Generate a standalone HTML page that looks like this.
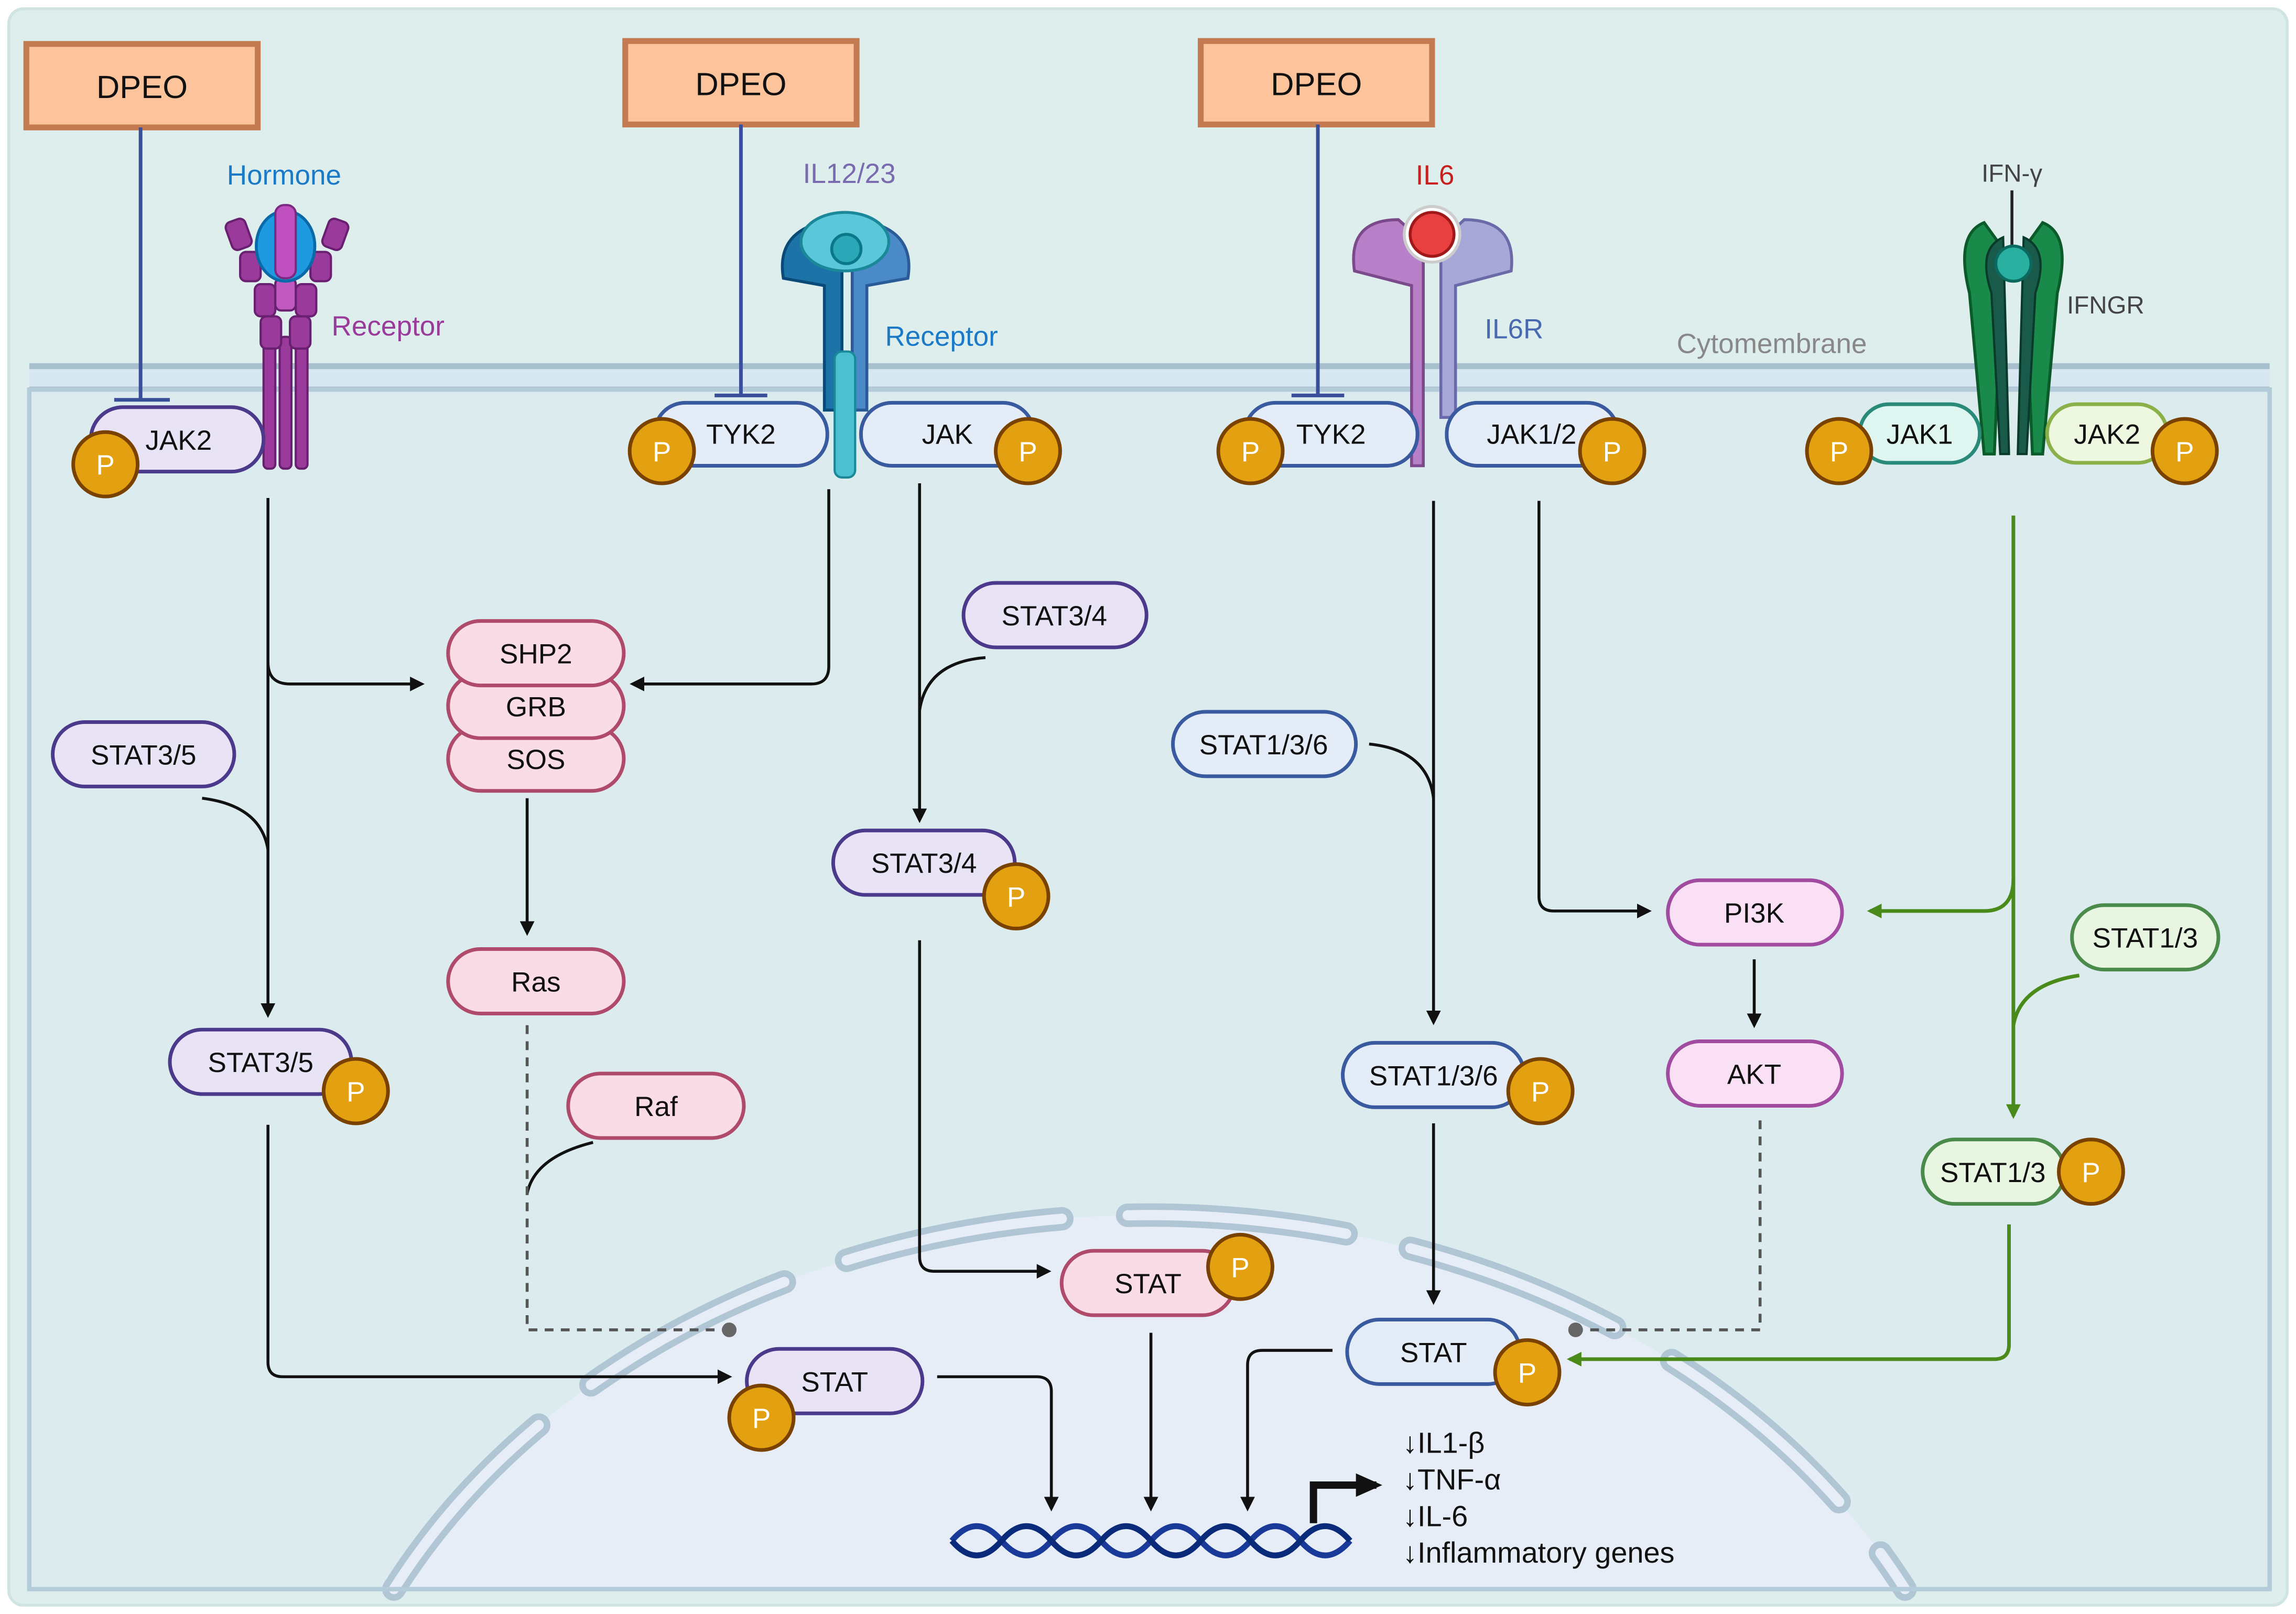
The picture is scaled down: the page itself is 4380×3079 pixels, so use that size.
<!DOCTYPE html>
<html><head><meta charset="utf-8"><style>
html,body{margin:0;padding:0;background:#fff;width:4380px;height:3079px;overflow:hidden}
svg{display:block;position:absolute;left:0;top:0}
text{font-family:"Liberation Sans",Arial,sans-serif}
</style></head><body>
<svg width="4380" height="3079" viewBox="0 0 1568 1102" preserveAspectRatio="none" xmlns="http://www.w3.org/2000/svg">
<defs>
<marker id="ab" markerWidth="10" markerHeight="10" refX="8" refY="5" orient="auto" markerUnits="userSpaceOnUse"><path d="M0,0 L10,5 L0,10 z" fill="#111"/></marker>
<marker id="ag" markerWidth="10" markerHeight="10" refX="8" refY="5" orient="auto" markerUnits="userSpaceOnUse"><path d="M0,0 L10,5 L0,10 z" fill="#4a8a1a"/></marker>
<marker id="abig" markerWidth="20" markerHeight="20" refX="14" refY="10" orient="auto" markerUnits="userSpaceOnUse"><path d="M0,2 L18,10 L0,18 z" fill="#111"/></marker>
</defs>
<rect x="0" y="0" width="1568" height="1102" fill="#fff"/>
<rect x="6" y="6" width="1556" height="1090" rx="10" fill="#deeeed" stroke="#d0e4e2" stroke-width="2"/>
<rect x="20" y="248" width="1530" height="20" fill="#d8e8f2"/>
<line x1="20" y1="250" x2="1550" y2="250" stroke="#a8bfcc" stroke-width="4"/>
<line x1="20" y1="266" x2="1550" y2="266" stroke="#a8bfcc" stroke-width="4"/>
<rect x="20" y="266" width="1530" height="819" fill="#dcecee"/>
<path d="M269,1085 A580,470 0 0,1 1301,1085 Z" fill="#e6edf7"/>
<path d="M269,1085 A580,470 0 0,1 1301,1085" fill="none" stroke="#b0c6d4" stroke-width="16" stroke-dasharray="150 45" stroke-linecap="round"/>
<path d="M269,1085 A580,470 0 0,1 1301,1085" fill="none" stroke="#e6edf7" stroke-width="7" stroke-dasharray="150 45" stroke-linecap="round"/>
<rect x="20" y="266" width="1530" height="819" fill="none" stroke="#b4ccda" stroke-width="3"/>
<g stroke="#c47b52" stroke-width="4" fill="#fdc39a">
<rect x="18" y="30" width="158" height="57"/><rect x="427" y="28" width="158" height="57"/><rect x="820" y="28" width="158" height="57"/>
</g>
<g font-size="22" text-anchor="middle" fill="#111"><text x="97" y="67">DPEO</text><text x="506" y="65">DPEO</text><text x="899" y="65">DPEO</text></g>
<g stroke="#3a4f9a" stroke-width="2.5"><line x1="96" y1="87" x2="96" y2="273"/><line x1="78" y1="273" x2="116" y2="273"/>
<line x1="506" y1="85" x2="506" y2="270"/><line x1="488" y1="270" x2="524" y2="270"/>
<line x1="900" y1="85" x2="900" y2="270"/><line x1="882" y1="270" x2="918" y2="270"/></g>
<g font-size="19" text-anchor="middle">
<text x="194" y="126" fill="#1a7ac8">Hormone</text><text x="265" y="229" fill="#9a3a9a">Receptor</text>
<text x="580" y="125" fill="#7a6ab0">IL12/23</text><text x="643" y="236" fill="#1a7ac8">Receptor</text>
<text x="980" y="126" fill="#c82020">IL6</text><text x="1034" y="231" fill="#4a6ab0">IL6R</text>
<text x="1374" y="124" fill="#444" font-size="17">IFN-γ</text><text x="1438" y="214" fill="#444" font-size="17">IFNGR</text>
<text x="1210" y="241" fill="#888">Cytomembrane</text></g>
<g fill="#9a3a9a" stroke="#6a2070" stroke-width="1.5">
<rect x="180" y="230" width="8" height="90" rx="3"/><rect x="191" y="230" width="8" height="90" rx="3"/><rect x="202" y="230" width="8" height="90" rx="3"/>
<rect x="156" y="150" width="14" height="20" rx="4" transform="rotate(-20 163 160)"/><rect x="222" y="150" width="14" height="20" rx="4" transform="rotate(20 229 160)"/>
<rect x="164" y="172" width="14" height="20" rx="4"/><rect x="212" y="172" width="14" height="20" rx="4"/>
<rect x="174" y="194" width="14" height="22" rx="4"/><rect x="202" y="194" width="14" height="22" rx="4"/>
<rect x="178" y="216" width="14" height="22" rx="4"/><rect x="198" y="216" width="14" height="22" rx="4"/>
<rect x="188" y="190" width="14" height="22" rx="4" fill="#c05ac0"/>
</g>
<ellipse cx="195" cy="168" rx="20" ry="24" fill="#1e9ae0" stroke="#0a6aa8" stroke-width="2"/>
<rect x="188" y="140" width="14" height="50" rx="6" fill="#c050c0" stroke="#7a2a80" stroke-width="1.5"/>
<path d="M535,190 Q530,160 560,152 L575,160 L575,280 L563,280 L563,195 Z" fill="#1b73a8" stroke="#0a4a78" stroke-width="2"/>
<path d="M620,190 Q625,160 595,152 L582,160 L582,280 L592,280 L592,195 Z" fill="#4a8ac8" stroke="#2a5a98" stroke-width="2"/>
<rect x="570" y="240" width="14" height="86" rx="5" fill="#4ac0d0" stroke="#1a8898" stroke-width="1.5"/>
<ellipse cx="577" cy="165" rx="30" ry="20" fill="#5ac8d8" stroke="#1a8898" stroke-width="2"/>
<circle cx="578" cy="170" r="10" fill="#2aa8b8" stroke="#0a7888" stroke-width="2"/>
<path d="M925,185 Q920,150 955,150 L972,165 L972,318 L964,318 L964,195 Z" fill="#b880c8" stroke="#7a4a8a" stroke-width="2"/>
<path d="M1032,185 Q1036,150 1000,150 L984,165 L984,285 L994,285 L994,195 Z" fill="#a8a8d8" stroke="#6a6aa8" stroke-width="2"/>
<circle cx="978" cy="160" r="19" fill="#fff" stroke="#ccc" stroke-width="2"/>
<circle cx="978" cy="160" r="15" fill="#e84040" stroke="#a01818" stroke-width="2"/>
<path d="M1345,200 Q1335,160 1355,152 L1368,170 L1362,310 L1355,310 Z" fill="#1a8a4a" stroke="#0a5a2a" stroke-width="2"/>
<path d="M1405,200 Q1415,160 1395,152 L1382,170 L1388,310 L1395,310 Z" fill="#1a8a4a" stroke="#0a5a2a" stroke-width="2"/>
<path d="M1360,200 Q1350,170 1368,162 L1372,310 L1366,310 Z" fill="#1a5a4a" stroke="#0a3a2a" stroke-width="1.5"/>
<path d="M1390,200 Q1400,170 1382,162 L1378,310 L1384,310 Z" fill="#1a5a4a" stroke="#0a3a2a" stroke-width="1.5"/>
<line x1="1374" y1="130" x2="1374" y2="170" stroke="#222" stroke-width="2"/>
<circle cx="1375" cy="180" r="12" fill="#2ab0a0" stroke="#0a6a60" stroke-width="2"/>
<g stroke="#111" stroke-width="2" fill="none">
<path d="M183,340 V693" marker-end="url(#ab)"/><path d="M183,452 Q183,467 198,467 H288" marker-end="url(#ab)"/>
<path d="M138,545 Q178,550 183,580"/>
<path d="M183,768 V930 Q183,940 193,940 H498" marker-end="url(#ab)"/>
<path d="M566,334 V455 Q566,467 554,467 H432" marker-end="url(#ab)"/>
<path d="M360,545 V637" marker-end="url(#ab)"/>
<path d="M628,330 V560" marker-end="url(#ab)"/><path d="M673,449 Q633,452 628,485"/>
<path d="M628,642 V858 Q628,868 638,868 H716" marker-end="url(#ab)"/>
<path d="M979,342 V698" marker-end="url(#ab)"/><path d="M935,508 Q975,512 979,545"/>
<path d="M979,767 V889" marker-end="url(#ab)"/>
<path d="M1051,342 V612 Q1051,622 1061,622 H1126" marker-end="url(#ab)"/>
<path d="M1198,655 V700" marker-end="url(#ab)"/>
<path d="M405,780 Q365,790 360,815"/>
<path d="M640,940 H708 Q718,940 718,950 V1030" marker-end="url(#ab)"/>
<path d="M786,910 V1030" marker-end="url(#ab)"/>
<path d="M910,922 H862 Q852,922 852,932 V1030" marker-end="url(#ab)"/>
</g>
<g stroke="#555" stroke-width="2" fill="none" stroke-dasharray="6 5">
<path d="M360,700 V908 H495"/><path d="M1202,765 V908 H1080"/></g>
<circle cx="498" cy="908" r="5" fill="#666"/><circle cx="1076" cy="908" r="5" fill="#666"/>
<g stroke="#4a8a1a" stroke-width="2.5" fill="none">
<path d="M1375,352 V762" marker-end="url(#ag)"/><path d="M1375,600 Q1375,622 1355,622 H1277" marker-end="url(#ag)"/>
<path d="M1420,666 Q1380,672 1375,700"/>
<path d="M1372,836 V918 Q1372,928 1362,928 H1072" marker-end="url(#ag)"/>
</g>
<g stroke-width="2.5" font-size="19" text-anchor="middle" fill="#111">
<g fill="#e9e3f6" stroke="#4b3a8c">
<rect x="62" y="278" width="118" height="44" rx="22"/><rect x="36" y="493" width="124" height="44" rx="22"/>
<rect x="116" y="703" width="124" height="44" rx="22"/><rect x="658" y="398" width="125" height="44" rx="22"/>
<rect x="569" y="567" width="124" height="44" rx="22"/><rect x="510" y="921" width="120" height="44" rx="22"/></g>
<g fill="#e4ecf8" stroke="#3a5aa0">
<rect x="447" y="275" width="118" height="43" rx="21"/><rect x="588" y="275" width="118" height="43" rx="21"/>
<rect x="850" y="275" width="118" height="43" rx="21"/><rect x="988" y="275" width="117" height="43" rx="21"/>
<rect x="801" y="486" width="125" height="44" rx="22"/><rect x="917" y="712" width="124" height="44" rx="22"/>
<rect x="920" y="901" width="118" height="44" rx="22"/></g>
<rect x="1270" y="276" width="82" height="40" rx="20" fill="#dff5f0" stroke="#2a8a7a"/>
<rect x="1398" y="276" width="82" height="40" rx="20" fill="#eef7df" stroke="#8ab04a"/>
<g fill="#fadce6" stroke="#b04a6a">
<rect x="306" y="496" width="120" height="44" rx="22"/><rect x="306" y="460" width="120" height="44" rx="22"/>
<rect x="306" y="424" width="120" height="44" rx="22"/>
<rect x="306" y="648" width="120" height="44" rx="22"/><rect x="388" y="733" width="120" height="44" rx="22"/>
<rect x="725" y="854" width="118" height="44" rx="22"/></g>
<g fill="#f9e0f5" stroke="#a04aa0"><rect x="1139" y="601" width="119" height="44" rx="22"/><rect x="1139" y="711" width="119" height="44" rx="22"/></g>
<g fill="#e8f5e0" stroke="#4a8a4a"><rect x="1415" y="618" width="100" height="44" rx="22"/><rect x="1313" y="778" width="97" height="44" rx="22"/></g>
</g>
<g font-size="19" text-anchor="middle" fill="#111">
<text x="122" y="307">JAK2</text><text x="98" y="522">STAT3/5</text><text x="178" y="732">STAT3/5</text>
<text x="720" y="427">STAT3/4</text><text x="631" y="596">STAT3/4</text><text x="570" y="950">STAT</text>
<text x="506" y="303">TYK2</text><text x="647" y="303">JAK</text><text x="909" y="303">TYK2</text><text x="1046" y="303">JAK1/2</text>
<text x="863" y="515">STAT1/3/6</text><text x="979" y="741">STAT1/3/6</text><text x="979" y="930">STAT</text>
<text x="1311" y="303">JAK1</text><text x="1439" y="303">JAK2</text>
<text x="366" y="453">SHP2</text><text x="366" y="489">GRB</text><text x="366" y="525">SOS</text>
<text x="366" y="677">Ras</text><text x="448" y="762">Raf</text><text x="784" y="883">STAT</text>
<text x="1198" y="630">PI3K</text><text x="1198" y="740">AKT</text>
<text x="1465" y="647">STAT1/3</text><text x="1361" y="807">STAT1/3</text></g>
<g fill="#e3a010" stroke="#7a4200" stroke-width="2.5">
<circle cx="72" cy="317" r="22"/><circle cx="452" cy="308" r="22"/><circle cx="702" cy="308" r="22"/>
<circle cx="854" cy="308" r="22"/><circle cx="1101" cy="308" r="22"/><circle cx="1256" cy="308" r="22"/><circle cx="1492" cy="308" r="22"/>
<circle cx="243" cy="745" r="22"/><circle cx="694" cy="612" r="22"/><circle cx="1052" cy="745" r="22"/><circle cx="1428" cy="800" r="22"/>
<circle cx="847" cy="865" r="22"/><circle cx="520" cy="968" r="22"/><circle cx="1043" cy="937" r="22"/></g>
<g font-size="19" text-anchor="middle" fill="#fff">
<text x="72" y="324">P</text><text x="452" y="315">P</text><text x="702" y="315">P</text><text x="854" y="315">P</text>
<text x="1101" y="315">P</text><text x="1256" y="315">P</text><text x="1492" y="315">P</text><text x="243" y="752">P</text>
<text x="694" y="619">P</text><text x="1052" y="752">P</text><text x="1428" y="807">P</text><text x="847" y="872">P</text>
<text x="520" y="975">P</text><text x="1043" y="944">P</text></g>
<g fill="none" stroke-width="4">
<path d="M650,1052 q17,-20 34,0 t34,0 t34,0 t34,0 t34,0 t34,0 t34,0 t34,0" stroke="#1a3a9a"/>
<path d="M650,1052 q17,20 34,0 t34,0 t34,0 t34,0 t34,0 t34,0 t34,0 t34,0" stroke="#0a2a7a"/>
</g>
<path d="M897,1040 V1014 H940" stroke="#111" stroke-width="5" fill="none" marker-end="url(#abig)"/>
<g font-size="20" fill="#111"><text x="958" y="992">↓IL1-β</text><text x="958" y="1017">↓TNF-α</text><text x="958" y="1042">↓IL-6</text><text x="958" y="1067">↓Inflammatory genes</text></g>
</svg>
</body></html>
